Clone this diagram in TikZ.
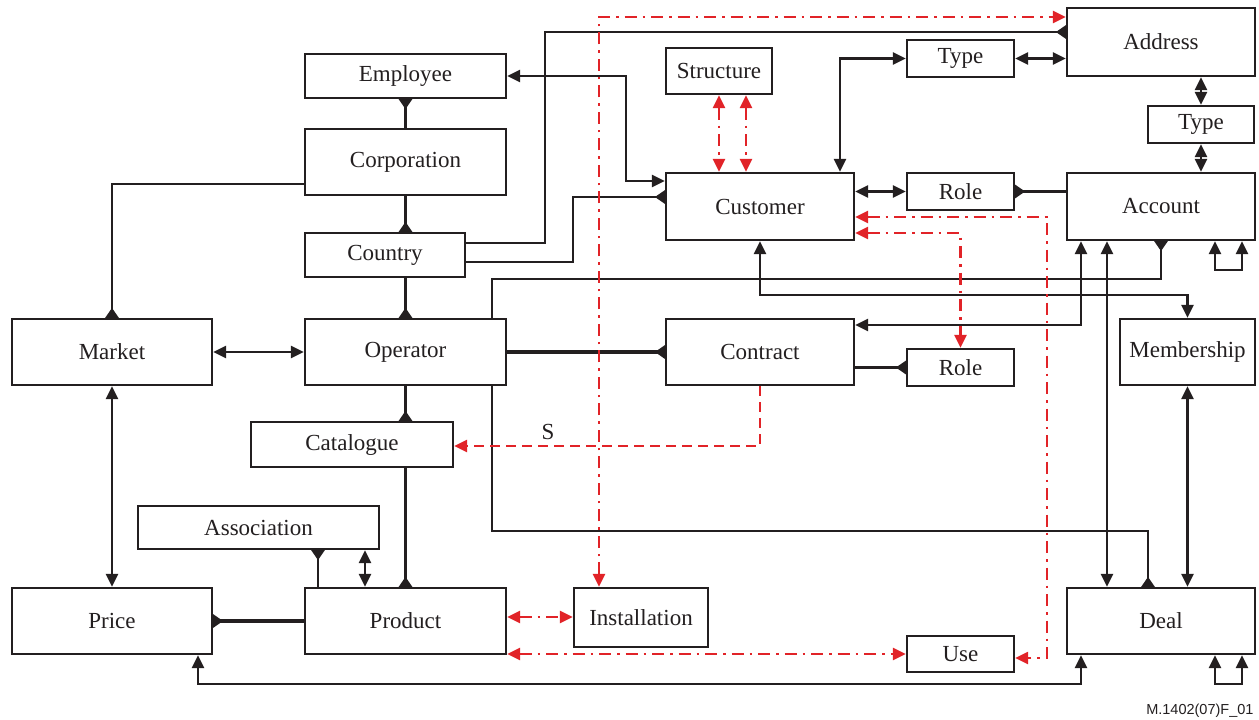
\documentclass[tikz,border=0pt]{standalone}
\usepackage{fontspec}
\setmainfont{Liberation Serif}
\newfontfamily\footfont{Liberation Sans}
\usetikzlibrary{arrows.meta,calc}
\definecolor{ink}{RGB}{35,31,32}
\definecolor{rd}{RGB}{225,35,40}
\tikzset{
  box/.style={draw=ink,line width=2.3pt,fill=white,inner sep=0pt,font=\fontsize{23}{27}\selectfont,text=ink},
  conn/.style={draw=ink,line width=2.4pt},
  thickconn/.style={draw=ink,line width=3.4pt},
  dbl/.style={{Triangle[length=13pt,width=12pt]}-{Triangle[length=13pt,width=12pt]}},
  mkend/.style={-{Triangle[reversed,length=10pt,width=13pt]}},
  mkstart/.style={{Triangle[reversed,length=10pt,width=13pt]}-},
  reddd/.style={draw=rd,line width=2.3pt,dash pattern=on 12pt off 6pt on 2.5pt off 6pt},
  reddash/.style={draw=rd,line width=2.3pt,dash pattern=on 10pt off 6pt},
  rdbl/.style={{Triangle[length=13pt,width=12pt,fill=rd]}-{Triangle[length=13pt,width=12pt,fill=rd]}},
  rtip/.style={-{Triangle[length=13pt,width=12pt,fill=rd]}},
}
\begin{document}
\begin{tikzpicture}[x=1pt,y=-1pt]
\useasboundingbox (0,0) rectangle (1259,720);
% nodes
\node[box,minimum width=201pt,minimum height=44pt] (employee) at (405.5,76) {Employee};
\node[box,minimum width=201pt,minimum height=66pt] (corporation) at (405.5,162) {Corporation};
\node[box,minimum width=160pt,minimum height=44pt] (country) at (385,255) {Country};
\node[box,minimum width=188pt,minimum height=68pt] (address) at (1161,42) {Address};
\node[box,minimum width=107pt,minimum height=37pt] (typeA) at (960.5,58.5) {Type};
\node[box,minimum width=106pt,minimum height=46pt] (structure) at (719,71) {Structure};
\node[box,minimum width=106pt,minimum height=37pt] (typeB) at (1201,124.5) {Type};
\node[box,minimum width=188pt,minimum height=67pt] (customer) at (760,206.5) {Customer};
\node[box,minimum width=107pt,minimum height=37pt] (roleA) at (960.5,191.5) {Role};
\node[box,minimum width=188pt,minimum height=67pt] (account) at (1161,206.5) {Account};
\node[box,minimum width=200pt,minimum height=66pt] (market) at (112,352) {Market};
\node[box,minimum width=201pt,minimum height=66pt] (operator) at (405.5,352) {Operator};
\node[box,minimum width=188pt,minimum height=66pt] (contract) at (760,352) {Contract};
\node[box,minimum width=107pt,minimum height=37pt] (roleB) at (960.5,367.5) {Role};
\node[box,minimum width=135pt,minimum height=66pt] (membership) at (1187.5,352) {Membership};
\node[box,minimum width=202pt,minimum height=45pt] (catalogue) at (352,444.5) {Catalogue};
\node[box,minimum width=241pt,minimum height=43pt] (association) at (258.5,527.5) {Association};
\node[box,minimum width=200pt,minimum height=66pt] (price) at (112,621) {Price};
\node[box,minimum width=201pt,minimum height=66pt] (product) at (405.5,621) {Product};
\node[box,minimum width=134pt,minimum height=59pt] (installation) at (641,617.5) {Installation};
\node[box,minimum width=107pt,minimum height=36pt] (use) at (960.5,654) {Use};
\node[box,minimum width=188pt,minimum height=66pt] (deal) at (1161,621) {Deal};
\node[font=\footfont\fontsize{14.5}{16}\selectfont,text=ink,anchor=east] (fig) at (1257,711) {M.1402(07)F\_01};
% black connectors
\draw[conn,dbl] (customer.north -| 840,0) |- (typeA.west);
\draw[conn,dbl] (typeA.east) -- (typeA.east -| address.west);
\draw[conn,dbl] (address.south -| typeB.north) -- (typeB.north);
\draw[conn,dbl] (typeB.south) -- (account.north -| typeB.south);
\draw[conn,dbl] (customer.east |- roleA.west) -- (roleA.west);
\draw[thickconn,mkend] (account.west |- roleA.east) -- (roleA.east);
\draw[conn,dbl] (employee.east) -| (626,181) -- (customer.west |- 0,181);
\draw[conn,mkend] (country.east |- 0,243) -| (545,32) -- (address.west |- 0,32);
\draw[conn,mkend] (country.east |- 0,262) -| (573,197) -- (customer.west |- 0,197);
\draw[conn,mkend] (corporation.north) -- (employee.south);
\draw[conn,mkend] (corporation.south) -- (corporation.south |- country.north);
\draw[conn,mkend] (operator.north |- country.south) -- (operator.north);
\draw[conn,mkend] (corporation.west |- 0,184) -| (market.north);
\draw[conn,dbl] (market.east) -- (operator.west);
\draw[conn,dbl] (market.south) -- (price.north);
\draw[thickconn,mkend] (operator.east) -- (contract.west);
\draw[conn,mkend] (operator.south) -- (operator.south |- catalogue.north);
\draw[conn,mkend] (operator.south |- catalogue.south) -- (product.north);
\draw[conn,mkstart] (association.south -| 318,0) -- (product.north -| 318,0);
\draw[conn,dbl] (association.south -| 365,0) -- (product.north -| 365,0);
\draw[thickconn,mkend] (product.west) -- (price.east);
\draw[conn,dbl] (price.south -| 198,0) -- (198,684) -| (deal.south -| 1081,0);
\draw[conn,dbl] (deal.south -| 1215,0) -- (1215,684) -| (deal.south -| 1242,0);
\draw[conn,dbl] (account.south -| 1215,0) -- (1215,270) -| (account.south -| 1242,0);
\draw[conn,mkend] (operator.north -| 492,0) -- (492,279) -| (account.south);
\draw[conn,dbl] (customer.south) -- (760,295) -| (membership.north);
\draw[conn,dbl] (account.south -| 1081,0) |- (contract.east |- 0,325);
\draw[conn,dbl] (account.south -| 1107,0) -- (deal.north -| 1107,0);
\draw[conn,mkend] (operator.south -| 492,0) -- (492,531) -| (deal.north -| 1148,0);
\draw[conn,dbl] (membership.south) -- (deal.north -| membership.south);
\draw[thickconn,mkend] (contract.east |- roleB.west) -- (roleB.west);
% red connectors
\draw[reddd,rdbl] (installation.north -| 599,0) |- (address.west |- 0,17);
\draw[reddd,rdbl] (structure.south -| 719,0) -- (customer.north -| 719,0);
\draw[reddd,rdbl] (structure.south -| 746,0) -- (customer.north -| 746,0);
\draw[reddd,rdbl] (customer.east |- 0,217) -| (1047,658) -- (use.east |- 0,658);
\draw[reddd,rdbl] (customer.east |- 0,233) -| (roleB.north);
\draw[reddash,rtip] (contract.south) |- (catalogue.east |- 0,446);
\node[font=\fontsize{23}{27}\selectfont,text=ink] (slabel) at (548,432) {S};
\draw[reddd,rdbl] (product.east |- 0,617) -- (installation.west |- 0,617);
\draw[reddd,rdbl] (product.east |- 0,654) -- (use.west);
\end{tikzpicture}
\end{document}
